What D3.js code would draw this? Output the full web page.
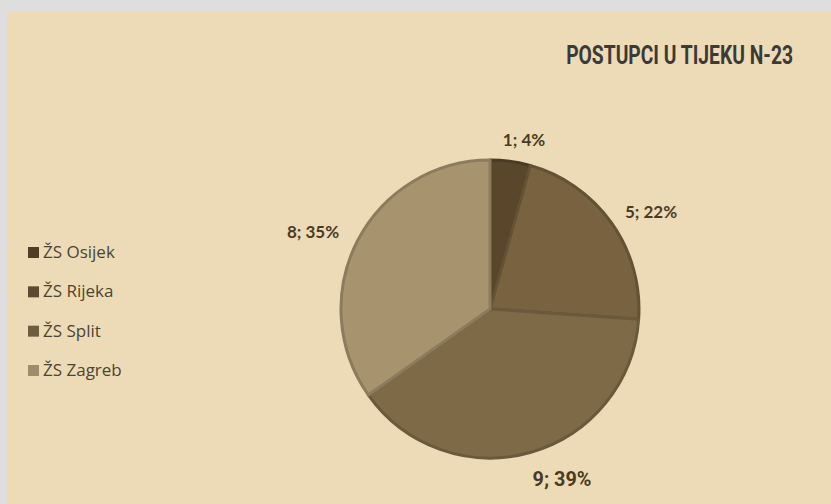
<!DOCTYPE html>
<html><head><meta charset="utf-8">
<script src="https://cdn.jsdelivr.net/npm/d3@7"></script>
<style>
html,body{margin:0;padding:0;background:#dedede;}
svg{display:block;}
</style></head>
<body>
<svg id="chart" width="831" height="504"></svg>
<script>
const categories = ["ŽS Osijek", "ŽS Rijeka", "ŽS Split", "ŽS Zagreb"];
const values = [1, 5, 9, 8];
const percents = ["4%", "22%", "39%", "35%"];
const colors = ["#5a472b", "#78623f", "#7f6a47", "#a8936f"];
const legendColors = ["#4f3e25", "#5e4a30", "#6f5d40", "#9e8c6d"];
const title = "POSTUPCI U TIJEKU N-23";

const svg = d3.select("#chart");
svg.append("rect").attr("x", 7).attr("y", 12).attr("width", 824).attr("height", 492).attr("fill", "#eddbb7");

// condensed text helper: scale horizontally to a target width, anchored at a point
function condensed(sel, x, y, w, anchor) {
  const nat = sel.node().getComputedTextLength();
  const s = Math.min(1, w / nat);
  sel.attr("x", 0).attr("y", 0).attr("text-anchor", anchor)
     .attr("transform", `translate(${x},${y}) scale(${s},1)`);
}

const t = svg.append("text")
  .attr("font-family", "Roboto, sans-serif")
  .attr("font-weight", "bold").attr("font-size", 26).attr("fill", "#3b3a38")
  .text(title);
condensed(t, 793, 64, 227, "end");

const cx = 490, cy = 309, r = 149;
const pie = d3.pie().sort(null).value(d => d)(values);
const arc = d3.arc().innerRadius(0).outerRadius(r);
const g = svg.append("g").attr("transform", `translate(${cx},${cy})`);
g.selectAll("path").data(pie).join("path")
  .attr("d", arc)
  .attr("fill", (d, i) => colors[i])
  .attr("stroke", (d, i) => d3.color(colors[i]).darker(0.5))
  .attr("stroke-width", 3)
  .attr("stroke-linejoin", "round");

const labelPos = [[524, 146], [651, 218], [562, 486], [313, 238]];
svg.selectAll("text.lbl").data(values).join("text").attr("class", "lbl")
  .attr("x", (d, i) => labelPos[i][0]).attr("y", (d, i) => labelPos[i][1])
  .attr("text-anchor", "middle")
  .attr("font-family", "Lato, sans-serif")
  .attr("font-weight", "bold").attr("font-size", 17)
  .attr("fill", "#4a3c24")
  .text((d, i) => `${d}; ${percents[i]}`);
// the bottom label is set in a condensed face in the reference
const lb = svg.selectAll("text.lbl").filter((d, i) => i === 2)
  .attr("font-family", "Roboto, sans-serif").attr("font-size", 20);
condensed(lb, 562, 486, 59, "middle");

const leg = svg.append("g");
const legY = d3.scalePoint().domain(categories).range([252, 370]);
leg.selectAll("rect").data(categories).join("rect")
  .attr("x", 28).attr("y", d => legY(d) - 5).attr("width", 11).attr("height", 11)
  .attr("fill", (d, i) => legendColors[i]);
leg.selectAll("text").data(categories).join("text")
  .attr("x", 43).attr("y", d => legY(d) + 6)
  .attr("font-family", "'Open Sans', sans-serif").attr("font-size", 17)
  .attr("fill", "#4c4433")
  .text(d => d);
</script>
</body></html>
